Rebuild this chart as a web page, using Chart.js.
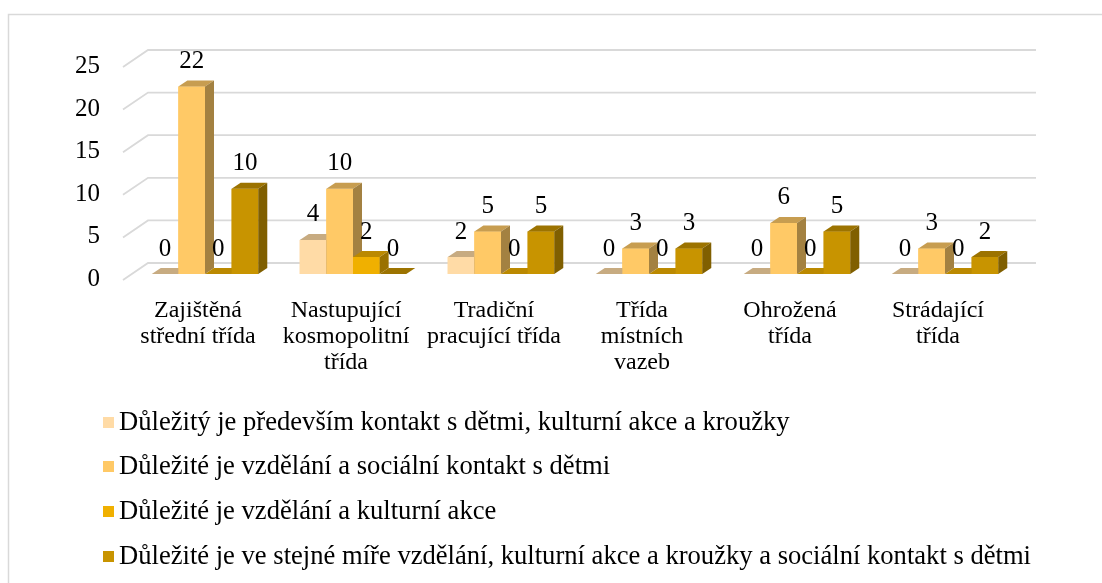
<!DOCTYPE html>
<html>
<head>
<meta charset="utf-8">
<script src="https://cdn.jsdelivr.net/npm/chart.js@4.4.0/dist/chart.umd.min.js"></script>
<style>
  html, body { margin: 0; padding: 0; background: #fff; }
  canvas { display: block; }
</style>
</head>
<body>
<canvas id="c" width="1102" height="583"></canvas>
<script>
const categories = [
  ['Zajištěná', 'střední třída'],
  ['Nastupující', 'kosmopolitní', 'třída'],
  ['Tradiční', 'pracující třída'],
  ['Třída', 'místních', 'vazeb'],
  ['Ohrožená', 'třída'],
  ['Strádající', 'třída']
];
const seriesNames = [
  'Důležitý je především kontakt s dětmi, kulturní akce a kroužky',
  'Důležité je vzdělání a sociální kontakt s dětmi',
  'Důležité je vzdělání a kulturní akce',
  'Důležité je ve stejné míře vzdělání, kulturní akce a kroužky a sociální kontakt s dětmi'
];
const kontaktAkce   = [0, 4, 2, 0, 0, 0];
const vzdelaniSoc   = [22, 10, 5, 3, 6, 3];
const vzdelaniKult  = [0, 2, 0, 0, 0, 0];
const vseStejne     = [10, 0, 5, 3, 5, 2];
const colors = ['#FFDBA6', '#FFC966', '#F0B000', '#C89400'];
const yTicks = [0, 5, 10, 15, 20, 25];

const FONT = 'Liberation Serif, Times New Roman, serif';
const DX = 9, DY = 6;   // bar depth

function shade(hex, f) {
  const n = parseInt(hex.slice(1), 16);
  const r = Math.round(((n >> 16) & 255) * f);
  const g = Math.round(((n >> 8) & 255) * f);
  const b = Math.round((n & 255) * f);
  return `rgb(${r},${g},${b})`;
}

const bars3d = {
  id: 'bars3d',
  beforeDraw(chart) {
    const c = chart.ctx;
    c.save();
    c.strokeStyle = '#d9d9d9';
    c.lineWidth = 1.5;
    c.strokeRect(8.5, 14.5, 1300, 800);
    c.restore();
  },
  beforeDatasetsDraw(chart) {
    const c = chart.ctx, y = chart.scales.y, a = chart.chartArea;
    c.save();
    c.strokeStyle = '#d9d9d9';
    c.lineWidth = 1.8;
    yTicks.forEach(v => {
      const py = y.getPixelForValue(v);
      c.beginPath();
      c.moveTo(a.left - 8, py + 6);
      c.lineTo(a.left + 17, py - 11);
      c.lineTo(a.right + 17, py - 11);
      c.stroke();
    });
    c.restore();
  },
  afterDatasetsDraw(chart) {
    const c = chart.ctx;
    const metas = chart.data.datasets.map((d, i) => chart.getDatasetMeta(i));
    c.save();
    for (let j = 0; j < categories.length; j++) {
      metas.forEach((m, i) => {
        const el = m.data[j];
        const col = chart.data.datasets[i].backgroundColor;
        const l = el.x - el.width / 2, r = el.x + el.width / 2;
        const t = el.y, b = el.base;
        c.fillStyle = col;
        c.fillRect(l, t, r - l, b - t);
        // top face
        c.fillStyle = shade(col, 0.78);
        c.beginPath();
        c.moveTo(l, t); c.lineTo(l + DX, t - DY); c.lineTo(r + DX, t - DY); c.lineTo(r, t);
        c.closePath(); c.fill();
        // side face
        c.fillStyle = shade(col, 0.64);
        c.beginPath();
        c.moveTo(r, t); c.lineTo(r + DX, t - DY); c.lineTo(r + DX, b - DY); c.lineTo(r, b);
        c.closePath(); c.fill();
      });
    }
    // value labels
    c.fillStyle = '#000';
    c.font = '25px ' + FONT;
    c.textAlign = 'center';
    c.textBaseline = 'middle';
    metas.forEach((m, i) => {
      m.data.forEach((el, j) => {
        c.fillText(String(chart.data.datasets[i].data[j]), el.x, el.y - 25);
      });
    });
    c.restore();
  },
  afterDraw(chart) {
    const c = chart.ctx;
    c.save();
    c.font = '26.6px ' + FONT;
    c.textBaseline = 'middle';
    c.textAlign = 'left';
    const rows = [422, 466, 511, 556];
    chart.data.datasets.forEach((d, i) => {
      c.fillStyle = d.backgroundColor;
      c.fillRect(103, rows[i] - 5, 11, 11);
      c.fillStyle = '#000';
      c.fillText(d.label, 119, rows[i] + 1);
    });
    c.restore();
  }
};

new Chart(document.getElementById('c'), {
  type: 'bar',
  data: {
    labels: categories,
    datasets: [
      { label: seriesNames[0], data: kontaktAkce,  backgroundColor: colors[0] },
      { label: seriesNames[1], data: vzdelaniSoc,  backgroundColor: colors[1] },
      { label: seriesNames[2], data: vzdelaniKult, backgroundColor: colors[2] },
      { label: seriesNames[3], data: vseStejne,    backgroundColor: colors[3] }
    ]
  },
  options: {
    responsive: false,
    animation: false,
    devicePixelRatio: 1,
    layout: { padding: { left: 0, right: 83, top: 61, bottom: 0 } },
    datasets: { bar: { categoryPercentage: 0.72, barPercentage: 1 } },
    plugins: { legend: { display: false }, tooltip: { enabled: false } },
    scales: {
      x: {
        grid: { display: false, drawTicks: false },
        border: { display: false },
        ticks: {
          autoSkip: false, maxRotation: 0, padding: 24, labelOffset: -7,
          color: '#000', font: { family: FONT, size: 24, lineHeight: 26 / 24 }
        },
        afterFit(s) { s.height = 309; }
      },
      y: {
        min: 0, max: 25,
        grid: { display: false, drawTicks: false },
        border: { display: false },
        ticks: {
          stepSize: 5, padding: 31, labelOffset: 5.5,
          color: '#000', font: { family: FONT, size: 25 }
        },
        afterFit(s) { s.width = 131; }
      }
    }
  },
  plugins: [bars3d]
});
</script>
</body>
</html>
